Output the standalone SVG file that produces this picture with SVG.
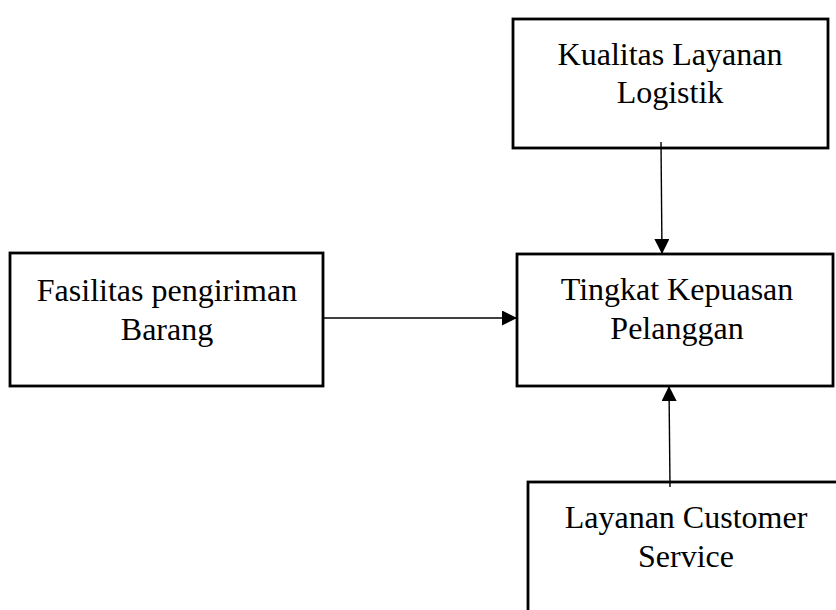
<svg xmlns="http://www.w3.org/2000/svg" width="836" height="610" viewBox="0 0 836 610">
<style>
.box{fill:#fff;stroke:#000;stroke-width:2.8}
.lbl{font-family:"Liberation Serif","Times New Roman",serif;font-size:32px;fill:#000;text-anchor:middle}
.con{stroke:#000;stroke-width:1.4;fill:none}
</style>
<defs>
<marker id="ah" viewBox="0 0 15 15" refX="15" refY="7.5" markerWidth="15" markerHeight="15" markerUnits="userSpaceOnUse" orient="auto">
<path d="M0,0 L15,7.5 L0,15 Z" fill="#000"/>
</marker>
</defs>
<rect width="836" height="610" fill="#fff"/>
<g id="n-kualitas">
<rect class="box" x="513" y="19" width="315" height="129"/>
<text class="lbl" x="670" y="65">Kualitas Layanan</text>
<text class="lbl" x="670" y="103">Logistik</text>
</g>
<g id="n-fasilitas">
<rect class="box" x="10" y="253" width="313" height="133"/>
<text class="lbl" x="167" y="301">Fasilitas pengiriman</text>
<text class="lbl" x="167" y="340">Barang</text>
</g>
<g id="n-tingkat">
<rect class="box" x="517" y="254" width="316" height="132"/>
<text class="lbl" x="677" y="300">Tingkat Kepuasan</text>
<text class="lbl" x="677" y="339">Pelanggan</text>
</g>
<g id="n-layanan">
<rect class="box" x="528" y="482" width="320" height="200"/>
<text class="lbl" x="686" y="528">Layanan Customer</text>
<text class="lbl" x="686" y="567">Service</text>
</g>
<g id="connectors">
<line class="con" x1="661" y1="142" x2="662" y2="254" marker-end="url(#ah)"/>
<line class="con" x1="323" y1="318" x2="517" y2="318" marker-end="url(#ah)"/>
<line class="con" x1="670" y1="487" x2="669" y2="386" marker-end="url(#ah)"/>
</g>
</svg>
